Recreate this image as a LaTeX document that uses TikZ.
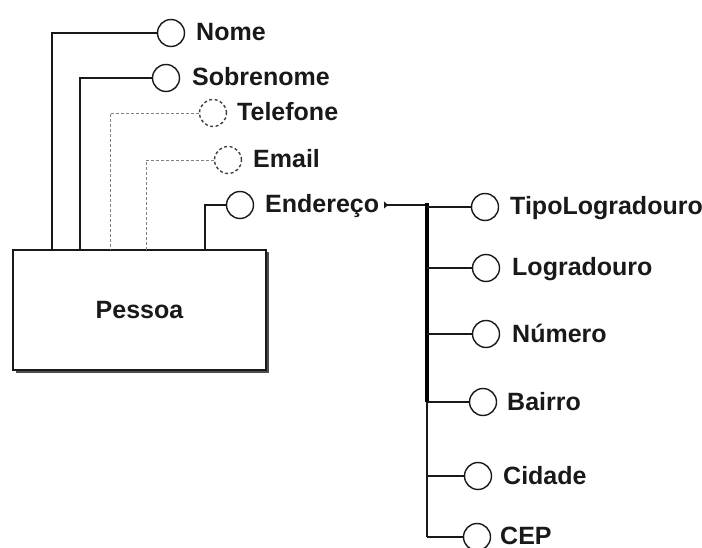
\documentclass[tikz,border=0pt]{standalone}
\usepackage{fontspec}
\setmainfont{Liberation Sans}
\usetikzlibrary{shadows,arrows.meta}
\begin{document}
\begin{tikzpicture}[x=1pt,y=-1pt,
  attr/.style={circle,draw=black!90,line width=1.4pt,fill=white,minimum size=27pt,inner sep=0pt},
  optattr/.style={attr,draw=black!75,dash pattern=on 3pt off 2.5pt},
  lbl/.style={anchor=base west,inner sep=0pt,text=black!90,font=\fontsize{25}{29}\selectfont\bfseries},
  link/.style={draw=black!90,line width=1.4pt},
  optlink/.style={draw=black!50,line width=0.9pt,dash pattern=on 3pt off 2pt},
  entity/.style={draw=black!90,line width=1.6pt,fill=white,minimum width=253pt,minimum height=120pt,inner sep=0pt,
    drop shadow={shadow xshift=2.5pt,shadow yshift=-2.5pt,fill=black!70,opacity=1}}
]
\useasboundingbox (0,0) rectangle (702,548);
% entity
\node[entity,font=\fontsize{25}{29}\selectfont\bfseries,text=black!90] (pessoa) at (139.5,310) {Pessoa};
% attributes of Pessoa
\node[attr] (cnome) at (171,33) {};
\node[lbl] (lnome) at (196,41) {Nome};
\node[attr] (csobre) at (166,78) {};
\node[lbl] (lsobre) at (192,86) {Sobrenome};
\node[optattr] (ctel) at (213,113) {};
\node[lbl] (ltel) at (237,121) {Telefone};
\node[optattr] (cemail) at (228,160) {};
\node[lbl] (lemail) at (253,168) {Email};
\node[attr] (cend) at (240,205) {};
\node[lbl] (lend) at (265,213) {Endereço};
% anchor points on the top of Pessoa
\coordinate (p1) at (52,250);
\coordinate (p2) at (80,250);
\coordinate (p3) at (110,250);
\coordinate (p4) at (146,250);
\coordinate (p5) at (205,250);
\draw[link] (cnome.west) -| (p1);
\draw[link] (csobre.west) -| (p2);
\draw[optlink] (ctel.west) -| (p3);
\draw[optlink] (cemail.west) -| (p4);
\draw[link] (cend.west) -| (p5);
% composite attribute Endereço
\node[attr] (ctipo) at (485,207) {};
\node[lbl] (ltipo) at (510,215) {TipoLogradouro};
\node[attr] (clog) at (486,268) {};
\node[lbl] (llog) at (512,276) {Logradouro};
\node[attr] (cnum) at (486,334) {};
\node[lbl] (lnum) at (512,342) {Número};
\node[attr] (cbai) at (483,402) {};
\node[lbl] (lbai) at (507,410) {Bairro};
\node[attr] (ccid) at (478,476) {};
\node[lbl] (lcid) at (503,484) {Cidade};
\node[attr] (ccep) at (477,537) {};
\node[lbl] (lcep) at (500,544) {CEP};
\coordinate (lendtip) at (384,205);
\coordinate (btop) at (427,205);
\coordinate (bbai) at (427,402);
\coordinate (bcep) at (427,537);
\draw[link,{Triangle[reversed,length=4pt,width=7pt]}-] (lendtip) -- (btop);
\draw[draw=black,line width=4pt] (427,203) -- (bbai);
\draw[link] (bbai) -- (bcep);
\draw[link] (btop |- ctipo) -- (ctipo.west);
\draw[link] (btop |- clog) -- (clog.west);
\draw[link] (btop |- cnum) -- (cnum.west);
\draw[link] (bbai) -- (cbai.west);
\draw[link] (btop |- ccid) -- (ccid.west);
\draw[link] (bcep) -- (ccep.west);
\end{tikzpicture}
\end{document}
